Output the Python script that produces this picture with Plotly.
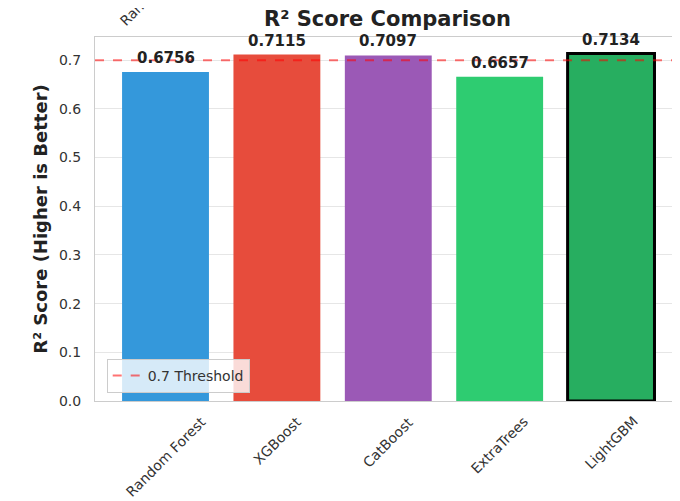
import plotly.graph_objects as go

# ── data ─────────────────────────────────────────────────────────────
models = ["Random Forest", "XGBoost", "CatBoost", "ExtraTrees", "LightGBM"]
r2_scores = [0.6756, 0.7115, 0.7097, 0.6657, 0.7134]
bar_colors = ["#3498db", "#e74c3c", "#9b59b6", "#2ecc71", "#27ae60"]
best_model = "LightGBM"
threshold = 0.7
y_ticks = [0.0, 0.1, 0.2, 0.3, 0.4, 0.5, 0.6, 0.7]

_FONT = dict(family="DejaVu Sans, sans-serif", size=14, color="#333333")
_BOLD = "DejaVu Sans, sans-serif"

positions = list(range(len(models)))

# the page body adds an 8px offset, so the figure is sized to fill 680x501
W, H = 672, 493

fig = go.Figure()

fig.add_trace(go.Bar(
    x=positions,
    y=r2_scores,
    width=0.78,
    marker=dict(
        color=bar_colors,
        line=dict(
            color=["#000000" if m == best_model else "rgba(0,0,0,0)" for m in models],
            width=[3 if m == best_model else 0 for m in models],
        ),
    ),
    showlegend=False,
    hoverinfo="x+y",
))

# threshold line
fig.add_hline(
    y=threshold, line_dash="dash", line_color="rgba(255,0,0,0.55)",
    line_width=2, name="0.7 Threshold", showlegend=True,
)

# value labels on top of bars
for p, v in zip(positions, r2_scores):
    fig.add_annotation(
        x=p, y=v, text=f"<b>{v:.4f}</b>", showarrow=False,
        yanchor="bottom", yshift=3,
        font=dict(family=_BOLD, size=15, color="#222222"),
    )

# rotated category labels, centred under each bar (matplotlib style)
for p, m in zip(positions, models):
    fig.add_annotation(
        x=p, y=0, yref="paper", text=m, showarrow=False, textangle=-45,
        xanchor="center", yanchor="top", yshift=-10, font=_FONT,
    )

# clipped tick label from the subplot above
fig.add_annotation(
    x=positions[0], y=1, yref="paper", text=models[0], showarrow=False,
    textangle=-45, xanchor="center", yanchor="bottom", yshift=5, xshift=-6,
    font=_FONT,
)

fig.update_layout(
    width=W,
    height=H,
    margin=dict(l=87, r=0, t=29, b=100, autoexpand=False),
    plot_bgcolor="#ffffff",
    paper_bgcolor="#ffffff",
    font=_FONT,
    title=dict(
        text="<b>R² Score Comparison</b>",
        x=(87 + W) / 2 / W, xanchor="center",
        y=1 - 11 / H, yanchor="middle", yref="container",
        font=dict(family=_BOLD, size=21, color="#222222"),
    ),
    legend=dict(
        x=0.02, y=0.022, xanchor="left", yanchor="bottom",
        bgcolor="rgba(255,255,255,0.8)", bordercolor="#cccccc", borderwidth=1,
        font=dict(family="DejaVu Sans, sans-serif", size=14, color="#333333"),
    ),
    xaxis=dict(
        range=[-0.633, 4.619], tickvals=positions, showticklabels=False,
        showgrid=False, zeroline=False, automargin=False,
        showline=True, linecolor="#cccccc", linewidth=1, mirror=True,
    ),
    yaxis=dict(
        range=[0, 0.7475], tickvals=y_ticks,
        ticktext=[f"{t:.1f}" for t in y_ticks],
        showgrid=True, gridcolor="#e6e6e6", zeroline=False, automargin=False,
        showline=True, linecolor="#cccccc", linewidth=1, mirror=True,
        ticks="outside", ticklen=10, tickcolor="rgba(0,0,0,0)",
        title=dict(text="<b>R² Score (Higher is Better)</b>", standoff=6,
                   font=dict(family=_BOLD, size=18, color="#222222")),
    ),
)

fig.write_html("out.html")
